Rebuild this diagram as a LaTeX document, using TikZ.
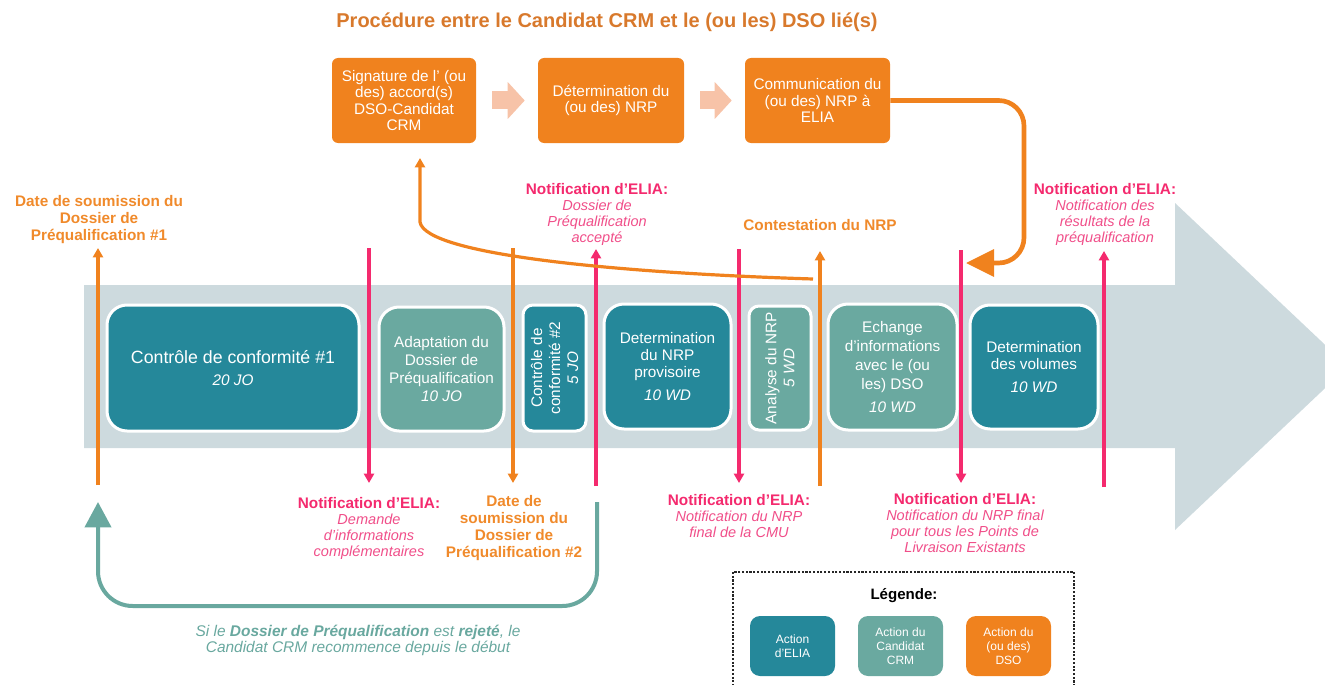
\documentclass[tikz,border=0pt]{standalone}
\usepackage{fontspec}
\setmainfont{Liberation Sans}
\usetikzlibrary{arrows.meta}
\definecolor{cteal}{HTML}{25889A}
\definecolor{clteal}{HTML}{6AA9A0}
\definecolor{corng}{HTML}{F0821E}
\definecolor{clorng}{HTML}{F7C3A8}
\definecolor{cband}{HTML}{CDDADE}
\definecolor{cpink}{HTML}{F42A6E}
\definecolor{cpinkit}{HTML}{F04E89}
\definecolor{corntxt}{HTML}{F08A2B}
\definecolor{ctitle}{HTML}{D8792C}
\definecolor{cloop}{HTML}{69A89F}
\newcommand\labit[1]{{\color{cpinkit}\fontsize{10.9}{12}\selectfont\itshape #1}}
\begin{document}
\begin{tikzpicture}[x=0.75pt,y=-0.75pt,
  stage/.style={draw=white, line width=2.25pt, rounded corners=15pt, text=white, align=center, inner sep=0pt, font=\fontsize{11.5}{13.5}\selectfont},
  elia/.style={stage, fill=cteal},
  cand/.style={stage, fill=clteal},
  dso/.style={fill=corng, rounded corners=4.5pt, text=white, align=center, inner sep=0pt, minimum height=63.75pt, font=\fontsize{11.5}{12.2}\selectfont},
  leg/.style={rounded corners=7.5pt, text=white, align=center, inner sep=0pt, minimum width=63.75pt, minimum height=45pt, font=\fontsize{9}{10.5}\selectfont},
  olab/.style={text=corntxt, align=center, inner sep=0pt, font=\bfseries\fontsize{11.5}{12.75}\selectfont},
  plab/.style={text=cpink, align=center, inner sep=0pt, font=\fontsize{11.5}{12}\selectfont},
  mline/.style={line width=2.4pt},
  pinkup/.style={mline, draw=cpink, -{Triangle[length=7pt,width=7.5pt]}},
  orngup/.style={mline, draw=corng, -{Triangle[length=7pt,width=7.5pt]}},
  chev/.style={draw=clorng, line width=13.5pt, -{Triangle[length=12.75pt,width=27pt]}},
]
\useasboundingbox (0,0) rectangle (1325,685);
\clip (0,0) rectangle (1325,685);

% big grey arrow
\fill[cband] (84,285) -- (1175,285) -- (1175,203) -- (1348,366.5) -- (1175,530) -- (1175,448) -- (84,448) -- cycle;

% title
\node[text=ctitle, font=\bfseries\fontsize{15}{18}\selectfont] (title) at (607,22) {Procédure entre le Candidat CRM et le (ou les) DSO lié(s)};

% DSO boxes
\node[dso, minimum width=108pt] (A) at (404,100.5) {Signature de l’ (ou\\des) accord(s)\\DSO-Candidat\\CRM};
\node[dso, minimum width=109.5pt] (B) at (611,100.5) {Détermination du\\(ou des) NRP};
\node[dso, minimum width=108.75pt] (C) at (817.5,100.5) {Communication du\\(ou des) NRP à\\ELIA};
\draw[chev] ([xshift=12pt]A.east) -- ([xshift=-9.75pt]B.west);
\draw[chev] ([xshift=12pt]B.east) -- ([xshift=-9.75pt]C.west);

% stages
\node[elia, minimum width=189pt, minimum height=94.5pt, font=\fontsize{13.3}{16}\selectfont] (b1) at (233,368) {Contrôle de conformité \#1\\{\fontsize{11.5}{14}\selectfont\itshape 20 JO}};
\node[cand, minimum width=93.75pt, minimum height=93pt] (b2) at (441.5,369) {Adaptation du\\Dossier de\\Préqualification\\{\itshape 10 JO}};
\node[elia, rotate=90, rounded corners=7.5pt, minimum width=94.5pt, minimum height=47.25pt] (b3) at (554.5,368) {Contrôle de\\conformité \#2\\{\itshape 5 JO}};
\node[elia, minimum width=95.25pt, minimum height=93.75pt, font=\fontsize{11.5}{12.75}\selectfont] (b4) at (667.5,366.5) {Determination\\du NRP\\provisoire\\[5pt]{\itshape 10 WD}};
\node[cand, rotate=90, rounded corners=7.5pt, minimum width=93pt, minimum height=46.5pt] (b5) at (780,368) {Analyse du NRP\\{\itshape 5 WD}};
\node[cand, minimum width=96.75pt, minimum height=94.5pt, font=\fontsize{11.5}{14.2}\selectfont] (b6) at (892.5,367) {Echange\\d’informations\\avec le (ou\\les) DSO\\[3pt]{\itshape 10 WD}};
\node[elia, minimum width=96pt, minimum height=93pt, font=\fontsize{11.5}{12.75}\selectfont] (b7) at (1034,367) {Determination\\des volumes\\[4pt]{\itshape 10 WD}};

% marker coordinates
\coordinate (m1a) at (98,485);  \coordinate (m1b) at (98,248);
\coordinate (m2a) at (369,248); \coordinate (m2b) at (369,483);
\coordinate (m3a) at (513,248); \coordinate (m3b) at (513,483);
\coordinate (m4a) at (596,486); \coordinate (m4b) at (596,249);
\coordinate (m5a) at (739,249); \coordinate (m5b) at (739,483);
\coordinate (m6a) at (820,486); \coordinate (m6b) at (820,251);
\coordinate (m7a) at (961,250); \coordinate (m7b) at (961,483);
\coordinate (m8a) at (1104,487); \coordinate (m8b) at (1104,251);

\draw[orngup] (m1a) -- (m1b);
\draw[pinkup] (m2a) -- (m2b);
\draw[orngup] (m3a) -- (m3b);
\draw[pinkup] (m4a) -- (m4b);
\draw[pinkup] (m5a) -- (m5b);
\draw[orngup] (m6a) -- (m6b);
\draw[pinkup] (m7a) -- (m7b);
\draw[pinkup] (m8a) -- (m8b);

% contestation curve back to DSO box A
\coordinate (cs) at (813,279);
\coordinate (ce) at (420,158);
\draw[mline, draw=corng, -{Triangle[length=7pt,width=7.5pt]}] (cs) .. controls (620,273) and (425,255) .. (420,222) -- (ce);

% communication to ELIA
\coordinate (ct) at (966,263);
\draw[draw=corng, line width=3.5pt, rounded corners=19pt, -{Triangle[length=21pt,width=20pt]}] (C.east) -- (1024,100.5) -- (1024,263) -- (ct);

% rejection loop
\coordinate (la) at (597,502);
\coordinate (lb) at (98,502);
\draw[draw=cloop, line width=3pt, rounded corners=26pt, -{Triangle[length=19pt,width=19.5pt]}] (la) -- (597,606) -- (98,606) -- (lb);
\node[text=cloop, align=center, font=\itshape\fontsize{11.6}{12}\selectfont] (loopt) at (358,640) {Si le \textbf{Dossier de Préqualification} est \textbf{rejeté}, le\\Candidat CRM recommence depuis le début};

% labels
\node[olab] (l1) at (99,220) {Date de soumission du\\Dossier de\\Préqualification \#1};
\node[plab] (l4) at (597,214.5) {\textbf{Notification d’ELIA:}\\\labit{Dossier de}\\\labit{Préqualification}\\\labit{accepté}};
\node[olab] (l6) at (820,225) {Contestation du NRP};
\node[plab] (l8) at (1105,214.5) {\textbf{Notification d’ELIA:}\\\labit{Notification des}\\\labit{résultats de la}\\\labit{préqualification}};
\node[plab] (l2) at (369,528.5) {\textbf{Notification d’ELIA:}\\\labit{Demande}\\\labit{d’informations}\\\labit{complémentaires}};
\node[olab] (l3) at (514,528) {Date de\\soumission du\\Dossier de\\Préqualification \#2};
\node[plab] (l5) at (739,516) {\textbf{Notification d’ELIA:}\\\labit{Notification du NRP}\\\labit{final de la CMU}};
\node[plab] (l7) at (965,523) {\textbf{Notification d’ELIA:}\\\labit{Notification du NRP final}\\\labit{pour tous les Points de}\\\labit{Livraison Existants}};

% legend
\draw[draw=black!85, line width=1.6pt, dash pattern=on 1.6pt off 1.2pt] (733,572) rectangle (1074,720);
\node[font=\bfseries\fontsize{11.3}{13}\selectfont] (legt) at (904,596) {Légende:};
\node[leg, fill=cteal] (lg1) at (792.5,646) {Action\\d’ELIA};
\node[leg, fill=clteal] (lg2) at (900.5,646) {Action du\\Candidat\\CRM};
\node[leg, fill=corng] (lg3) at (1008.5,646) {Action du\\(ou des)\\DSO};
\end{tikzpicture}
\end{document}
